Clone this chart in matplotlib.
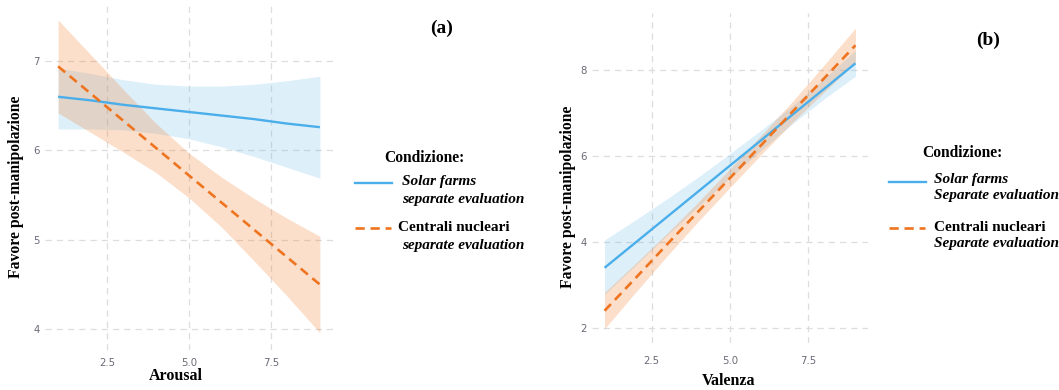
import numpy as np
import matplotlib
matplotlib.use("Agg")
import matplotlib.pyplot as plt
from matplotlib.lines import Line2D

# values
x_pts = [1, 2, 3, 4, 5, 6, 7, 8, 9]

# panel (a): Arousal
a_solar_fit = [6.60, 6.56, 6.51, 6.47, 6.43, 6.39, 6.35, 6.30, 6.26]
a_solar_lo = [6.24, 6.24, 6.23, 6.19, 6.13, 6.04, 5.93, 5.81, 5.69]
a_solar_hi = [6.92, 6.86, 6.79, 6.74, 6.72, 6.72, 6.74, 6.78, 6.83]
a_nucl_fit = [6.94, 6.635, 6.33, 6.025, 5.72, 5.415, 5.11, 4.805, 4.50]
a_nucl_lo = [6.42, 6.20, 5.98, 5.75, 5.47, 5.14, 4.76, 4.37, 3.96]
a_nucl_hi = [7.46, 7.07, 6.68, 6.30, 5.97, 5.70, 5.46, 5.24, 5.04]

# panel (b): Valenza
b_solar_fit = [3.40, 3.995, 4.59, 5.185, 5.78, 6.375, 6.97, 7.565, 8.16]
b_solar_lo = [2.78, 3.47, 4.16, 4.84, 5.50, 6.14, 6.76, 7.33, 7.86]
b_solar_hi = [4.05, 4.52, 5.01, 5.52, 6.06, 6.61, 7.18, 7.80, 8.46]
b_nucl_fit = [2.40, 3.17, 3.95, 4.72, 5.49, 6.26, 7.04, 7.81, 8.58]
b_nucl_lo = [1.98, 2.84, 3.68, 4.49, 5.27, 6.04, 6.79, 7.49, 8.18]
b_nucl_hi = [2.83, 3.51, 4.21, 4.94, 5.71, 6.49, 7.28, 8.12, 8.98]

x_ticks = [2.5, 5.0, 7.5]
x_ticklabels = ["2.5", "5.0", "7.5"]
a_yticks = [4, 5, 6, 7]
b_yticks = [2, 4, 6, 8]

BLUE = "#4AAEEA"
BLUE_FILL = "#56B4E9"
ORANGE = "#EE7420"
ORANGE_FILL = "#F08030"
SERIF = "Liberation Serif"
W, H = 1059.0, 390.0


def draw_panel(ax, solar, nucl, yticks, ylim, xlabel, xpad):
    # same order as geom_smooth: ribbon + line per group
    ax.fill_between(x_pts, solar[1], solar[2], color=BLUE_FILL, alpha=0.2, lw=0)
    ax.plot(x_pts, solar[0], color=BLUE, lw=1.7, solid_capstyle="butt")
    ax.fill_between(x_pts, nucl[1], nucl[2], color=ORANGE_FILL, alpha=0.25, lw=0)
    ax.plot(x_pts, nucl[0], color=ORANGE, lw=1.9, dashes=(3.5, 2.2))
    ax.set_xlim(0.6, 9.4)
    ax.set_ylim(*ylim)
    ax.set_xticks(x_ticks)
    ax.set_xticklabels(x_ticklabels)
    ax.set_yticks(yticks)
    for s in ax.spines.values():
        s.set_visible(False)
    ax.tick_params(length=0, labelsize=7.3, labelcolor="#6A6A78")
    ax.tick_params(axis="x", pad=xpad)
    ax.tick_params(axis="y", pad=4)
    ax.grid(True, color="#DDDDDD", lw=0.9, dashes=(5, 4))
    ax.set_axisbelow(True)
    ax.set_xlabel(xlabel, family=SERIF, fontweight="bold", fontsize=11.5)
    ax.set_ylabel("Favore post-manipolazione", family=SERIF, fontweight="bold",
                  fontsize=11.3)


def draw_legend(fig, x_line, x_text, y_title, x_title, y1, y2, second, gap):
    fig.text(x_title / W, 1 - y_title / H, "Condizione:", family=SERIF,
             fontweight="bold", fontsize=11.2, va="center")
    fig.add_artist(Line2D([x_line / W, (x_line + 37) / W], [1 - y1 / H] * 2,
                          color=BLUE, lw=1.7))
    fig.text(x_text / W, 1 - (y1 - 2) / H, "Solar farms", family=SERIF,
             fontweight="bold", style="italic", fontsize=11, va="center")
    fig.text(x_text / W, 1 - (y1 - 2 + gap) / H, second, family=SERIF,
             fontweight="bold", style="italic", fontsize=11, va="center")
    fig.add_artist(Line2D([x_line / W, (x_line + 36) / W], [1 - y2 / H] * 2,
                          color=ORANGE, lw=1.9, dashes=(3.5, 2.2)))
    fig.text((x_text - 4) / W if second[0] == "s" else x_text / W, 1 - (y2 - 1) / H,
             "Centrali nucleari", family=SERIF, fontweight="bold", fontsize=11,
             va="center")
    fig.text(x_text / W, 1 - (y2 - 1 + gap) / H, second, family=SERIF,
             fontweight="bold", style="italic", fontsize=11, va="center")


fig = plt.figure(figsize=(10.59, 3.9), dpi=100)

ax_a = fig.add_axes([45 / W, 0.103, 288 / W, 0.885])
draw_panel(ax_a, (a_solar_fit, a_solar_lo, a_solar_hi),
           (a_nucl_fit, a_nucl_lo, a_nucl_hi), a_yticks, (3.77, 7.63), "Arousal", 6)
ax_a.xaxis.set_label_coords((176 - 45) / 288, -(368 - 350) / 345)
ax_a.yaxis.set_label_coords(-(45 - 24) / 288, (350 - 187) / 345)

ax_b = fig.add_axes([592 / W, 0.1205, 276 / W, 0.846])
draw_panel(ax_b, (b_solar_fit, b_solar_lo, b_solar_hi),
           (b_nucl_fit, b_nucl_lo, b_nucl_hi), b_yticks, (1.65, 9.33), "Valenza", 9)
ax_b.xaxis.set_label_coords((729 - 592) / 276, -(373 - 343) / 330)
ax_b.yaxis.set_label_coords(-(592 - 576) / 276, (343 - 197) / 330)

draw_legend(fig, 355, 402, 158, 384, 183, 228, "separate evaluation", 19)
draw_legend(fig, 889, 934, 153, 922, 182, 228, "Separate evaluation", 16)

fig.text(442 / W, 1 - 28 / H, "(a)", family=SERIF, fontweight="bold",
         fontsize=14, ha="center", va="center")
fig.text(988 / W, 1 - 40 / H, "(b)", family=SERIF, fontweight="bold",
         fontsize=14, ha="center", va="center")

fig.savefig("out.png", dpi=100)
